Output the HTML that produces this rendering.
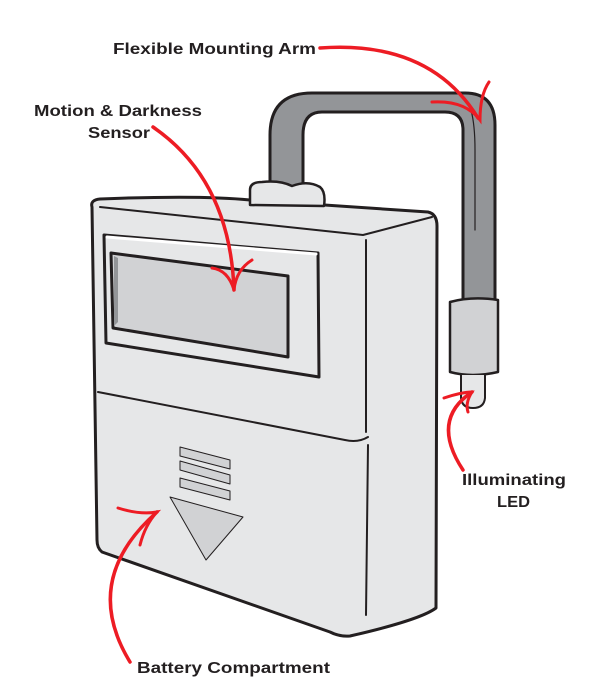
<!DOCTYPE html>
<html><head><meta charset="utf-8"><style>
html,body{margin:0;padding:0;background:#fff;width:600px;height:700px;overflow:hidden}
svg{display:block}
text{font-family:"Liberation Sans",sans-serif;font-weight:bold;font-size:16px;fill:#231f20}
</style></head><body>
<svg width="600" height="700" viewBox="0 0 600 700" xmlns="http://www.w3.org/2000/svg">
<g stroke="#231f20" stroke-linejoin="round" stroke-linecap="round">
<path d="M270 190 L270 135 Q270 93 312 93 L465 93 Q495 93 495 125 L495 300 L463 300 L463 130 Q463 112 445 112 L322 112 Q303 112 303 135 L303 190 Z" fill="#939598" stroke-width="3"/>
<path d="M471 110 Q475 125 475 150 L475 230" fill="none" stroke-width="1.2"/>
<path d="M450 302 Q472 296 498 300 L498 372 Q472 378 450 372 Z" fill="#d1d2d4" stroke-width="2.5"/>
<path d="M461 375 L461 398 Q462 408 473 408 Q484 408 485 398 L485 375" fill="#e6e7e8" stroke-width="2"/>
<path d="M92 207 Q90 200 100 199 Q200 195 250 200 L428 212 Q437 214 437 226 L436 608 Q420 620 350 636 Q340 637 330 632 L102 552 Q97 548 97 540 Z" fill="#e6e7e8" stroke-width="3"/>
<path d="M100 207 L363 235 L432 217" fill="none" stroke-width="2"/>
<path d="M366 240 L366 432 M368 445 L366 615" fill="none" stroke-width="2"/>
<path d="M98 392 L345 440 Q358 443 368 437" fill="none" stroke-width="2"/>
<path d="M250 190 Q250 182 262 182 Q280 180 292 186 Q308 180 320 187 Q326 192 324 206 L250 205 Z" fill="#e6e7e8" stroke-width="2.5"/>
<path d="M104 235 L318 253 L319 377 L106 343 Z" fill="#e6e7e8" stroke-width="3"/>
<path d="M107 237 L316 254" stroke="#fff" stroke-width="3" fill="none"/>
<path d="M111 253 L288 276 L288 357 L113 328 Z" fill="#d1d2d4" stroke-width="3"/>
<path d="M114 256 L118 258 L118 322 L114 326 Z" fill="#939598" stroke="none"/>
<g fill="#d1d2d4" stroke-width="1">
<path d="M180 447 L230 460 L230 469 L180 456 Z"/>
<path d="M180 461 L230 475 L230 484 L180 470 Z"/>
<path d="M180 478 L230 491 L230 500 L180 487 Z"/>
<path d="M170 497 L243 517 L206 560 Z"/>
</g>
</g>
<g fill="none" stroke="#ed1c24" stroke-linecap="round">
<path d="M320 48 Q430 40 478 118" stroke-width="3.5"/>
<path d="M432 102 Q465 100 480 120 Q480 95 489 82" stroke-width="3"/>
<path d="M153 127 Q230 180 234 290" stroke-width="3.5"/>
<path d="M212 268 Q228 270 234 290 Q236 270 252 260" stroke-width="3"/>
<path d="M463 470 Q430 420 472 392" stroke-width="3.5"/>
<path d="M444 398 Q462 392 472 392 Q465 403 468 412" stroke-width="3"/>
<path d="M130 662 Q80 580 157 512" stroke-width="3.5"/>
<path d="M118 508 Q140 515 157 512 Q145 525 140 545" stroke-width="3"/>
</g>
<text x="113" y="54" textLength="203" lengthAdjust="spacingAndGlyphs">Flexible Mounting Arm</text>
<text x="34" y="116" textLength="168" lengthAdjust="spacingAndGlyphs">Motion &amp; Darkness</text>
<text x="88" y="138" textLength="62" lengthAdjust="spacingAndGlyphs">Sensor</text>
<text x="462" y="485" textLength="104" lengthAdjust="spacingAndGlyphs">Illuminating</text>
<text x="497" y="507" textLength="33" lengthAdjust="spacingAndGlyphs">LED</text>
<text x="137" y="673" textLength="193" lengthAdjust="spacingAndGlyphs">Battery Compartment</text>
</svg>
</body></html>
